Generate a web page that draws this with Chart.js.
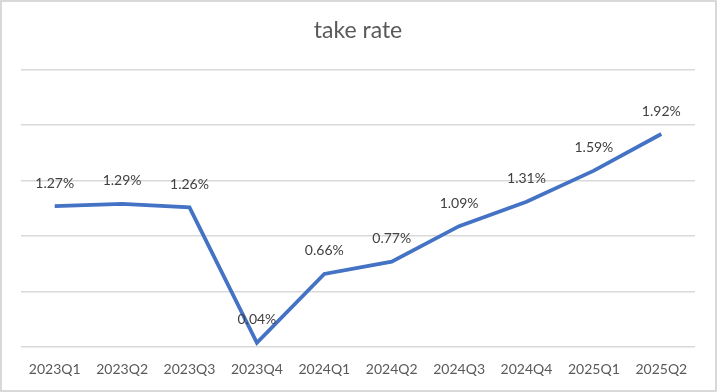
<!DOCTYPE html>
<html>
<head>
<meta charset="utf-8">
<script src="https://cdn.jsdelivr.net/npm/chart.js@4"></script>
<style>
  html, body { margin: 0; padding: 0; background: #fff; }
  #wrap {
    width: 717px; height: 392px; box-sizing: border-box;
    border: 2px solid #D9D9D9; background: #fff;
  }
  canvas { display: block; }
</style>
</head>
<body>
<div id="wrap"><canvas id="chart" width="713" height="388"></canvas></div>
<script>
// chart data
var quarters = ["2023Q1", "2023Q2", "2023Q3", "2023Q4", "2024Q1", "2024Q2", "2024Q3", "2024Q4", "2025Q1", "2025Q2"];
var takeRate = [1.27, 1.29, 1.26, 0.04, 0.66, 0.77, 1.09, 1.31, 1.59, 1.92];
var yTicks = [0, 0.5, 1, 1.5, 2, 2.5];

// value labels above each point
var valueLabels = {
    id: "valueLabels",
    afterDatasetsDraw: function (chart) {
        var ctx = chart.ctx;
        var meta = chart.getDatasetMeta(0);
        ctx.save();
        ctx.font = "14px Lato";
        ctx.fillStyle = "#404040";
        ctx.textAlign = "center";
        ctx.textBaseline = "middle";
        meta.data.forEach(function (pt, i) {
            ctx.fillText(takeRate[i].toFixed(2) + "%", pt.x, pt.y - 23);
        });
        ctx.restore();
    }
};

var ctx = document.getElementById("chart").getContext("2d");
var takeRateChart = new Chart(ctx, {
    type: "line",
    data: {
        labels: quarters,
        datasets: [{
            label: "take rate",
            data: takeRate,
            borderColor: "#4472C4",
            backgroundColor: "#4472C4",
            borderWidth: 3.8,
            pointRadius: 0,
            tension: 0,
            fill: false
        }]
    },
    options: {
        responsive: false,
        animation: false,
        layout: { padding: { left: 19, right: 20, top: 0, bottom: -2 } },
        plugins: {
            legend: { display: false },
            tooltip: { enabled: false },
            title: {
                display: true,
                text: "take rate",
                color: "#595959",
                font: { family: "Lato", size: 23, weight: "normal" },
                padding: { top: 15, bottom: 25 }
            }
        },
        scales: {
            x: {
                offset: true,
                grid: { display: false, drawTicks: false },
                border: { display: false },
                ticks: {
                    color: "#595959",
                    font: { family: "Lato", size: 14 },
                    padding: 14,
                    autoSkip: false,
                    maxRotation: 0
                }
            },
            y: {
                min: yTicks[0],
                max: yTicks[yTicks.length - 1],
                afterBuildTicks: function (scale) {
                    scale.ticks = yTicks.map(function (v) { return { value: v }; });
                },
                afterFit: function (scale) { scale.width = 0; },
                grid: { color: "#D9D9D9", lineWidth: 1.5, drawTicks: false },
                border: { display: false },
                ticks: { display: false }
            }
        }
    },
    plugins: [valueLabels]
});
</script>
</body>
</html>
